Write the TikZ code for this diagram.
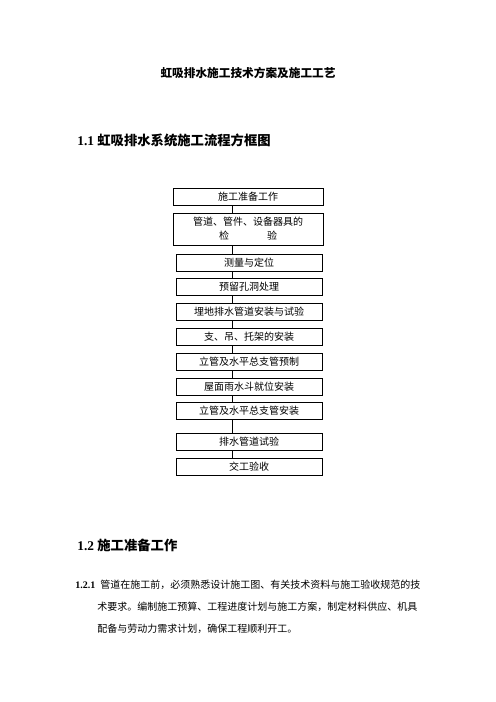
\documentclass[tikz,border=0pt]{standalone}
\usepackage{fontspec}
\setmainfont{Liberation Serif}
\newfontfamily\cjk{Noto Sans CJK SC}
\begin{document}
\begin{tikzpicture}[unit length/.code={{\newdimen\tikzunit}\setlength{\tikzunit}{#1}},unit length=1.2pt,x=\tikzunit,y=-\tikzunit,line width=0.8pt,box/.style={rectangle,draw,solid,sharp corners,minimum width=146\tikzunit,minimum height=17\tikzunit,inner sep=0,font=\cjk\fontsize{12}{14}\selectfont},wide box/.style={box,minimum width=150\tikzunit},wire/.style={draw},label text/.style={inner sep=0,anchor=west},body/.style={label text,font=\cjk\fontsize{12}{14}\selectfont}]
  \useasboundingbox (0,0) rectangle (496,702);
  \node[inner sep=0] (title) at (248,73) {\fontsize{14}{16}\selectfont\cjk\bfseries 虹吸排水施工技术方案及施工工艺};
  \node[label text] (h1) at (77,140) {\fontsize{16}{18}\selectfont\bfseries 1.1 {\cjk\bfseries 虹吸排水系统施工流程方框图}};
  \node[wide box] (n1) at (248,196.5) {施工准备工作};
  \node[wide box,minimum height=32\tikzunit,align=center] (n2) at (248,229) {管道、管件、设备器具的\\[3pt]检\hspace{3.8em}验};
  \node[box] (n3) at (249,263) {测量与定位};
  \node[box] (n4) at (249,287) {预留孔洞处理};
  \node[box] (n5) at (249,311.5) {埋地排水管道安装与试验};
  \node[box] (n6) at (249,336.5) {支、吊、托架的安装};
  \node[box] (n7) at (249,361.5) {立管及水平总支管预制};
  \node[box] (n8) at (249,386.5) {屋面雨水斗就位安装};
  \node[box] (n9) at (249,411) {立管及水平总支管安装};
  \node[box] (n10) at (249,441.5) {排水管道试验};
  \node[box] (n11) at (249,466.5) {交工验收};
  \coordinate (spine) at (232,0);
  \path[wire] (n1.south -| spine) -- (n2.north -| spine);
  \path[wire] (n2.south -| spine) -- (n3.north -| spine);
  \path[wire] (n3.south -| spine) -- (n4.north -| spine);
  \path[wire] (n4.south -| spine) -- (n5.north -| spine);
  \path[wire] (n5.south -| spine) -- (n6.north -| spine);
  \path[wire] (n6.south -| spine) -- (n7.north -| spine);
  \path[wire] (n7.south -| spine) -- (n8.north -| spine);
  \path[wire] (n8.south -| spine) -- (n9.north -| spine);
  \path[wire] (n9.south -| spine) -- (n10.north -| spine);
  \path[wire] (n10.south -| spine) -- (n11.north -| spine);
  \node[label text] (h2) at (77,545) {\fontsize{16}{18}\selectfont\bfseries 1.2 {\cjk\bfseries 施工准备工作}};
  \node[label text,font=\fontsize{12}{14}\selectfont\bfseries] (p0) at (75,585) {1.2.1};
  \node[body] (p1) at (100,585) {管道在施工前，必须熟悉设计施工图、有关技术资料与施工验收规范的技};
  \node[body] (p2) at (97,607) {术要求。编制施工预算、工程进度计划与施工方案，制定材料供应、机具};
  \node[body] (p3) at (97,629) {配备与劳动力需求计划，确保工程顺利开工。};
\end{tikzpicture}
\end{document}
